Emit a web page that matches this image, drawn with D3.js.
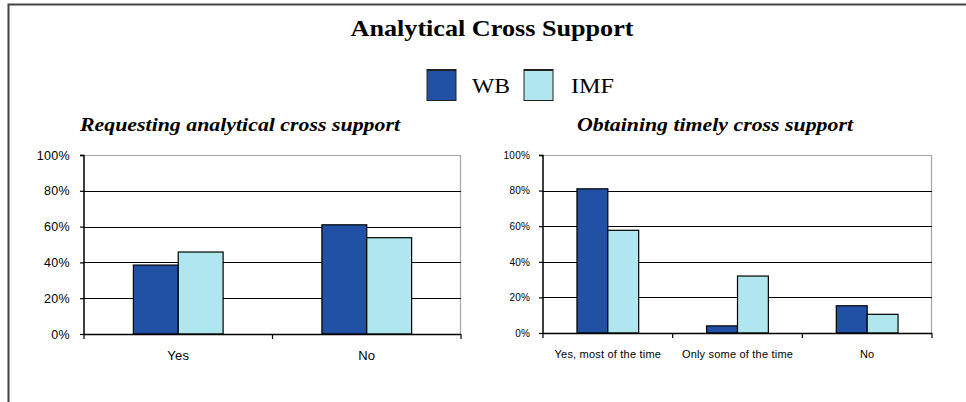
<!DOCTYPE html>
<html>
<head>
<meta charset="utf-8">
<script src="https://cdn.jsdelivr.net/npm/d3@7"></script>
<style>
  body { margin: 0; background: #fff; }
  svg { display: block; }
  .axis path, .axis line { stroke: #000; }
  .axis text { fill: #000; font-family: "Liberation Sans", Arial, sans-serif; }
</style>
</head>
<body>
<div id="chart"></div>
<script>
// series + colours
const seriesNames = ['WB', 'IMF'];
const seriesColors = ['#2151a5', '#b0e6ee'];

// left panel
const leftTitle = 'Requesting analytical cross support';
const leftCategories = ['Yes', 'No'];
const leftWB = [0.385, 0.61];
const leftIMF = [0.458, 0.538];

// right panel
const rightTitle = 'Obtaining timely cross support';
const rightCategories = ['Yes, most of the time', 'Only some of the time', 'No'];
const rightWB = [0.81, 0.04, 0.153];
const rightIMF = [0.577, 0.32, 0.105];

const yTicks = [0, 0.2, 0.4, 0.6, 0.8, 1.0];

const width = 966, height = 402;
const serif = '"Liberation Serif", "Times New Roman", serif';

const svg = d3.select('#chart')
  .append('svg')
  .attr('width', width)
  .attr('height', height);

// outer frame (top + left edge only, as in the source)
svg.append('path')
  .attr('d', 'M8.5,402 V4.5 H966')
  .attr('fill', 'none')
  .attr('stroke', '#444')
  .attr('stroke-width', 2);

// main title - the source text is a bit wider than Times, so stretch it
svg.append('text')
  .attr('x', 492)
  .attr('y', 36)
  .attr('text-anchor', 'middle')
  .attr('textLength', 283)
  .attr('lengthAdjust', 'spacingAndGlyphs')
  .style('font-family', serif)
  .style('font-weight', 'bold')
  .style('font-size', '23px')
  .text('Analytical Cross Support');

// legend
const legendPos = [{x: 427, tx: 472, tl: 38}, {x: 524, tx: 571, tl: 43}];
const legend = svg.append('g');
seriesNames.forEach((name, i) => {
  legend.append('rect')
    .attr('x', legendPos[i].x)
    .attr('y', 69.5)
    .attr('width', 29)
    .attr('height', 31)
    .attr('fill', seriesColors[i])
    .attr('stroke', '#222')
    .attr('stroke-width', 1);
  legend.append('line')
    .attr('x1', legendPos[i].x).attr('x2', legendPos[i].x + 29)
    .attr('y1', 70).attr('y2', 70)
    .attr('stroke', '#222').attr('stroke-width', 2);
  legend.append('text')
    .attr('x', legendPos[i].tx)
    .attr('y', 93)
    .attr('textLength', legendPos[i].tl)
    .attr('lengthAdjust', 'spacingAndGlyphs')
    .style('font-family', serif)
    .style('font-size', '21px')
    .text(name);
});

function drawPanel(opts) {
  const ctrWidth = opts.right - opts.left;
  const ctrHeight = opts.bottom - opts.top;

  // subtitle
  svg.append('text')
    .attr('x', opts.titleX)
    .attr('y', 131)
    .attr('text-anchor', 'middle')
    .attr('textLength', opts.titleLen)
    .attr('lengthAdjust', 'spacingAndGlyphs')
    .style('font-family', serif)
    .style('font-weight', 'bold')
    .style('font-style', 'italic')
    .style('font-size', '19px')
    .text(opts.title);

  const ctr = svg.append('g')
    .attr('transform', `translate(${opts.left}, ${opts.top})`);

  const data = opts.categories.map((c, i) => ({
    cat: c,
    values: seriesNames.map((s, j) => ({ key: s, value: opts.series[j][i], color: seriesColors[j] }))
  }));

  const x0 = d3.scaleBand()
    .domain(opts.categories)
    .range([0, ctrWidth])
    .padding(0);

  const bw = x0.bandwidth();
  const x1 = d3.scaleBand()
    .domain(seriesNames)
    .range([bw * 0.262, bw * 0.738])
    .padding(0);

  const y = d3.scaleLinear()
    .domain([0, 1])
    .range([ctrHeight, 0]);

  // plot area border (grey top/right)
  ctr.append('path')
    .attr('d', `M0,0.5 H${ctrWidth - 0.5} V${ctrHeight}`)
    .attr('fill', 'none')
    .attr('stroke', '#a6a6a6')
    .attr('stroke-width', 1.2);

  // gridlines
  ctr.append('g')
    .selectAll('line')
    .data(yTicks.filter(t => t > 0 && t < 1))
    .join('line')
    .attr('x1', 0)
    .attr('x2', ctrWidth)
    .attr('y1', d => Math.round(y(d)) + 0.5)
    .attr('y2', d => Math.round(y(d)) + 0.5)
    .attr('stroke', '#000')
    .attr('stroke-width', 1.2);

  // bars
  ctr.append('g')
    .selectAll('g')
    .data(data)
    .join('g')
    .attr('transform', d => `translate(${x0(d.cat)}, 0)`)
    .selectAll('rect')
    .data(d => d.values)
    .join('rect')
    .attr('x', d => x1(d.key))
    .attr('y', d => y(d.value))
    .attr('width', x1.bandwidth())
    .attr('height', d => ctrHeight - y(d.value))
    .attr('fill', d => d.color)
    .attr('stroke', '#000')
    .attr('stroke-width', 1.2);

  // y axis
  const yAxis = d3.axisLeft(y)
    .tickValues(yTicks)
    .tickSize(4)
    .tickPadding(opts.yPad)
    .tickFormat(d3.format('.0%'));

  ctr.append('g')
    .classed('axis', true)
    .call(yAxis)
    .call(g => g.select('.domain').attr('d', `M-4,0.5 H0 V${ctrHeight}`).attr('stroke-width', 1.5))
    .call(g => g.selectAll('line').attr('stroke-width', 1.2))
    .call(g => g.selectAll('text').style('font-size', opts.yFont + 'px').style('letter-spacing', opts.yLs));

  // x axis: ticks at category boundaries
  const boundaries = d3.range(opts.categories.length + 1).map(i => i * bw);
  const xAxisG = ctr.append('g')
    .classed('axis', true)
    .attr('transform', `translate(0, ${ctrHeight})`);

  xAxisG.append('line')
    .attr('x1', 0).attr('x2', ctrWidth)
    .attr('y1', 0.5).attr('y2', 0.5)
    .attr('stroke', '#000').attr('stroke-width', 1.5);

  xAxisG.selectAll('.tick-b')
    .data(boundaries)
    .join('line')
    .attr('class', 'tick-b')
    .attr('x1', d => d).attr('x2', d => d)
    .attr('y1', 0).attr('y2', 5)
    .attr('stroke', '#000').attr('stroke-width', 1.2);

  xAxisG.selectAll('.cat-label')
    .data(opts.categories)
    .join('text')
    .attr('class', 'cat-label')
    .attr('x', d => x0(d) + bw / 2)
    .attr('y', opts.xLabelY)
    .attr('text-anchor', 'middle')
    .style('font-size', opts.xFont + 'px')
    .style('letter-spacing', opts.xLs)
    .text(d => d);
}

drawPanel({
  title: leftTitle,
  titleX: 240,
  titleLen: 320,
  categories: leftCategories,
  series: [leftWB, leftIMF],
  left: 84, right: 461, top: 155, bottom: 334,
  yPad: 10, yFont: 12.5, yLs: '0.3px',
  xFont: 13, xLs: '0.3px', xLabelY: 26
});

drawPanel({
  title: rightTitle,
  titleX: 715,
  titleLen: 276,
  categories: rightCategories,
  series: [rightWB, rightIMF],
  left: 543, right: 932, top: 155, bottom: 333,
  yPad: 9, yFont: 10, yLs: '0.2px',
  xFont: 11, xLs: '0.2px', xLabelY: 25
});
</script>
</body>
</html>
